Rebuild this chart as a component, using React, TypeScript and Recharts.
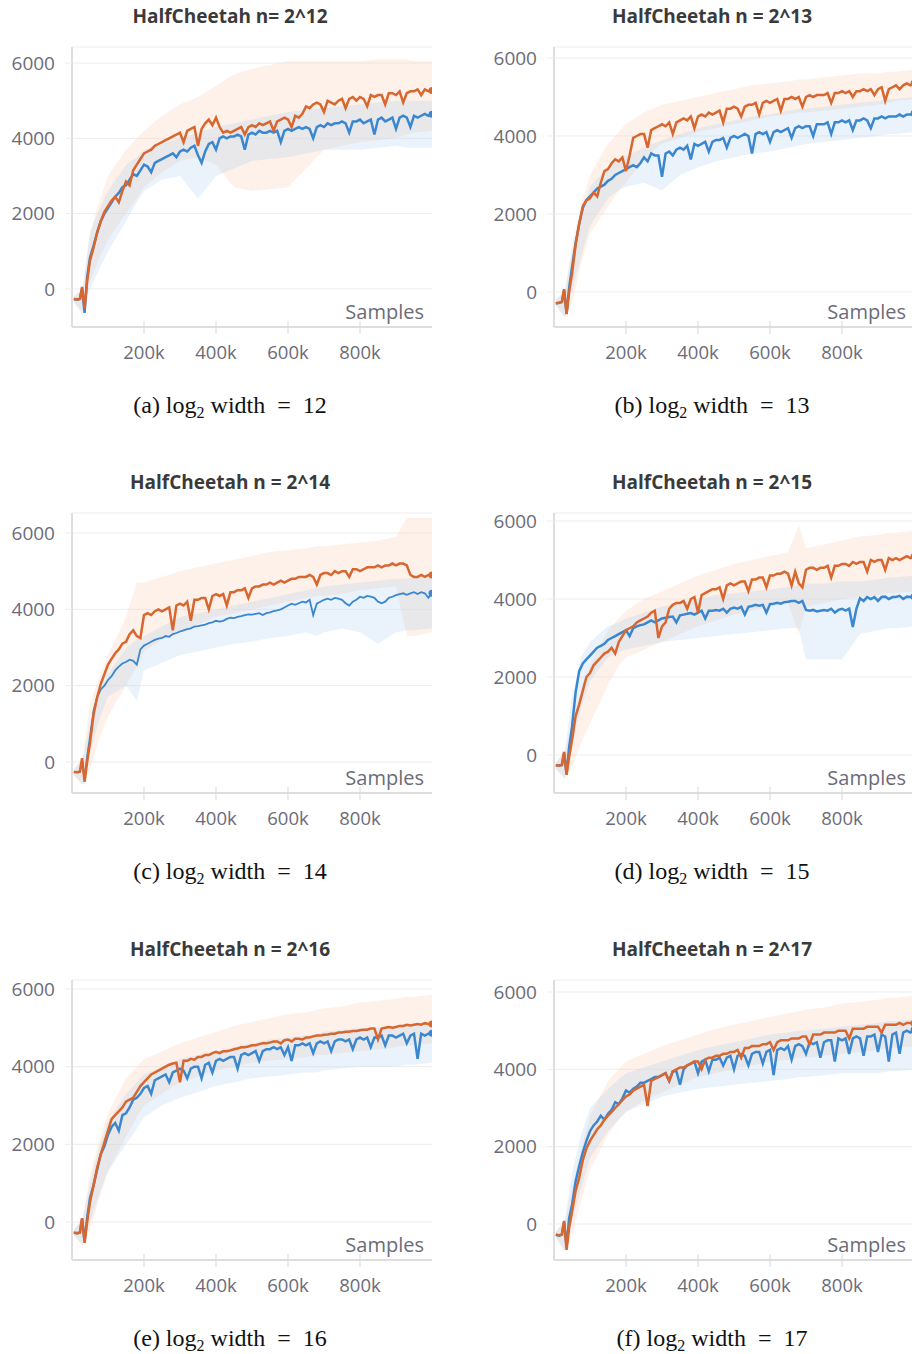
import { ComposedChart, Line, Area, XAxis, YAxis, CartesianGrid } from 'recharts';

// sample counts (thousands) for the mean curves
const STEPS = [
  5, 15, 22, 28, 35, 42,
  50, 60, 70, 80, 90, 100, 110, 120, 130, 140,
  150, 160, 170, 180, 190, 200, 210, 220, 230, 240,
  250, 260, 270, 280, 290, 300, 310, 320, 330, 340,
  350, 360, 370, 380, 390, 400, 410, 420, 430, 440,
  450, 460, 470, 480, 490, 500, 510, 520, 530, 540,
  550, 560, 570, 580, 590, 600, 610, 620, 630, 640,
  650, 660, 670, 680, 690, 700, 710, 720, 730, 740,
  750, 760, 770, 780, 790, 800, 810, 820, 830, 840,
  850, 860, 870, 880, 890, 900, 910, 920, 930, 940,
  950, 960, 970, 980, 990, 1000,
];

// sample counts (thousands) for the min/max bands
const BAND_STEPS = [5, 30, 50, 75, 100, 150, 180, 200, 250, 300, 350, 400, 450, 500, 550, 600, 650, 680, 700, 750, 800, 850, 900, 930, 950, 1000];

const Y_TICKS = [0, 2000, 4000, 6000];
const X_TICKS = [200, 400, 600, 800];

// ---- n = 2^12
const ORANGE_12 = [
  -270, -280, -260, 50, -530, 200,
  750, 1100, 1500, 1800, 2050, 2200, 2350, 2450, 2300, 2600,
  2850, 2750, 3150, 3300, 3450, 3600, 3650, 3700, 3800, 3850,
  3900, 3950, 4000, 4050, 4100, 4150, 3900, 4200, 4250, 4300,
  3800, 4250, 4400, 4500, 4350, 4550, 4300, 4150, 4200, 4150,
  4200, 4250, 4300, 4100, 4300, 4350, 4300, 4400, 4350, 4400,
  4450, 4200, 4450, 4500, 4550, 4500, 4300, 4600, 4550, 4650,
  4850, 4800, 4900, 4950, 4900, 4700, 5000, 4950, 4900, 5000,
  5050, 4800, 5050, 5100, 5000, 5100, 5050, 4850, 5150, 5100,
  5150, 5150, 4900, 5200, 5200, 5150, 5250, 4950, 5200, 5250,
  5250, 5300, 5150, 5300, 5250, 5270,
];
const BLUE_12 = [
  -270, -290, -270, 0, -640, 300,
  830, 1150, 1500, 1800, 2000, 2150, 2300, 2450, 2550, 2700,
  2750, 2900, 3050, 3000, 3150, 3300, 3250, 3100, 3350, 3400,
  3450, 3500, 3550, 3600, 3500, 3650, 3700, 3650, 3750, 3800,
  3550, 3350, 3650, 3850, 3900, 3700, 4000, 4050, 4000, 4050,
  4050, 4100, 4050, 3700, 4100, 4150, 4100, 4200, 4150, 4150,
  4200, 4150, 4200, 3900, 4200, 4250, 4200, 4250, 4300, 4250,
  4300, 4250, 4000, 4300, 4350, 4300, 4400, 4350, 4400, 4400,
  4450, 4400, 4150, 4450, 4450, 4500, 4400, 4450, 4500, 4100,
  4500, 4550, 4450, 4500, 4550, 4250, 4550, 4600, 4550, 4300,
  4600, 4550, 4600, 4650, 4600, 4640,
];
const ORANGE_HI_12 = [-200, 0, 1500, 2300, 3000, 3700, 4000, 4200, 4600, 4900, 5100, 5400, 5700, 5850, 5950, 6050, 6050, 6050, 6050, 6050, 6050, 6100, 6100, 6100, 6050, 6050];
const ORANGE_LO_12 = [-350, -600, 200, 800, 1300, 2000, 2400, 2700, 3100, 3400, 3500, 3300, 2700, 2600, 2650, 2700, 3200, 3500, 3700, 3800, 3900, 3950, 4000, 4100, 4150, 4200];
const BLUE_HI_12 = [-200, 0, 1500, 2100, 2600, 3300, 3500, 3700, 3850, 4000, 4150, 4300, 4400, 4500, 4600, 4700, 4750, 4800, 4800, 4850, 4900, 4950, 5000, 5000, 5000, 5000];
const BLUE_LO_12 = [-350, -700, 0, 500, 1000, 1800, 2300, 2600, 2900, 3000, 2400, 3000, 3200, 3400, 3450, 3500, 3600, 3650, 3700, 3700, 3700, 3750, 3800, 3750, 3750, 3750];

// ---- n = 2^13
const ORANGE_13 = [
  -290, -280, -250, 70, -570, 0,
  460, 1200, 1750, 2200, 2350, 2400, 2550, 2450, 2800, 3100,
  3150, 3300, 3400, 3350, 3450, 3100, 3500, 3950, 4000, 4050,
  4050, 3700, 4150, 4200, 4250, 4300, 4250, 4350, 4050, 4350,
  4400, 4450, 4400, 4500, 4200, 4500, 4550, 4500, 4600, 4550,
  4600, 4650, 4350, 4700, 4700, 4750, 4700, 4500, 4750, 4800,
  4800, 4850, 4550, 4850, 4900, 4850, 4900, 4950, 4650, 4950,
  4950, 5000, 4950, 5000, 4750, 5000, 5050, 5000, 5050, 5050,
  5050, 5100, 4850, 5100, 5100, 5150, 5100, 5150, 5000, 5150,
  5150, 5200, 5150, 5200, 5050, 5200, 5250, 4900, 5200, 5250,
  5300, 5200, 5300, 5350, 5300, 5350,
];
const BLUE_13 = [
  -290, -280, -260, 50, -560, 100,
  620, 1250, 1750, 2150, 2350, 2450, 2550, 2650, 2700, 2750,
  2850, 2900, 3000, 3050, 3100, 3150, 3200, 3250, 3200, 3300,
  3450, 3350, 3550, 3500, 3500, 2950, 3550, 3600, 3500, 3650,
  3700, 3650, 3750, 3400, 3800, 3750, 3800, 3850, 3600, 3850,
  3900, 3900, 3950, 3700, 3950, 4000, 3950, 4000, 4050, 4000,
  3550, 4050, 4100, 4050, 4100, 3850, 4100, 4150, 4100, 4150,
  4200, 3950, 4200, 4250, 4200, 4250, 4250, 4000, 4300, 4300,
  4300, 4350, 4050, 4350, 4350, 4400, 4350, 4400, 4150, 4400,
  4400, 4450, 4400, 4200, 4450, 4450, 4500, 4450, 4500, 4500,
  4500, 4550, 4500, 4550, 4550, 4580,
];
const ORANGE_HI_13 = [-200, 0, 1200, 2200, 3000, 3800, 4100, 4300, 4600, 4800, 4900, 5000, 5100, 5200, 5300, 5350, 5400, 5450, 5450, 5500, 5550, 5600, 5600, 5650, 5650, 5700];
const ORANGE_LO_13 = [-350, -650, -300, 700, 1500, 2200, 2600, 2800, 3400, 3800, 3950, 4100, 4200, 4300, 4400, 4500, 4550, 4600, 4600, 4650, 4700, 4750, 4800, 4850, 4900, 4950];
const BLUE_HI_13 = [-200, 0, 1000, 2000, 2700, 3200, 3400, 3500, 3700, 3900, 4050, 4200, 4300, 4400, 4500, 4550, 4650, 4700, 4700, 4750, 4800, 4850, 4900, 4950, 4950, 5000];
const BLUE_LO_13 = [-350, -650, 0, 900, 1700, 2400, 2600, 2700, 2800, 2600, 3000, 3200, 3350, 3450, 3550, 3600, 3700, 3750, 3800, 3850, 3900, 3950, 4000, 4050, 4050, 4100];

// ---- n = 2^14
const ORANGE_14 = [
  -260, -270, -250, 100, -520, 0,
  500, 1250, 1700, 2050, 2300, 2550, 2700, 2850, 2950, 3100,
  3150, 3350, 3450, 3300, 3250, 3850, 3900, 3850, 3950, 4000,
  3950, 4000, 4050, 3450, 4100, 4150, 4100, 4200, 3700, 4250,
  4250, 4300, 4300, 4000, 4350, 4400, 4350, 4400, 4100, 4450,
  4450, 4500, 4500, 4550, 4300, 4550, 4600, 4600, 4650, 4650,
  4700, 4650, 4700, 4750, 4700, 4750, 4800, 4800, 4850, 4850,
  4850, 4900, 4850, 4650, 4900, 4950, 4950, 4900, 5000, 4950,
  5000, 5000, 4850, 5050, 5050, 5000, 5050, 5100, 5100, 5100,
  5150, 5100, 5150, 5150, 5200, 5150, 5200, 5200, 5150, 4900,
  4850, 4850, 4900, 4850, 4900, 4900,
];
const BLUE_14 = [
  -260, -270, -260, 50, -450, 150,
  650, 1350, 1700, 1900, 2000, 2150, 2250, 2400, 2500, 2580,
  2620, 2680, 2650, 2550, 2950, 3050, 3100, 3150, 3200, 3230,
  3250, 3300, 3280, 3350, 3380, 3420, 3450, 3480, 3500, 3550,
  3560, 3580, 3600, 3640, 3660, 3700, 3680, 3700, 3750, 3780,
  3770, 3800, 3820, 3850, 3870, 3860, 3880, 3900, 3850, 3900,
  3920, 3950, 3970, 4000, 4050, 4100, 4150, 4120, 4160, 4200,
  4180, 4250, 3850, 4150, 4200, 4250, 4280, 4250, 4300, 4280,
  4250, 4160, 4100, 4200, 4250, 4330, 4300, 4350, 4330, 4300,
  4200, 4160, 4200, 4300, 4330, 4370, 4400, 4420, 4380, 4420,
  4450, 4400, 4450, 4420, 4300, 4420,
];
const ORANGE_HI_14 = [-200, 100, 1500, 2200, 2800, 3800, 4700, 4700, 4850, 5000, 5100, 5200, 5300, 5400, 5500, 5550, 5600, 5650, 5650, 5700, 5750, 5800, 5900, 6400, 6400, 6400];
const ORANGE_LO_14 = [-350, -600, -200, 600, 1200, 2000, 2500, 2900, 3200, 3400, 3600, 3800, 3900, 4000, 4100, 4200, 4300, 4350, 4350, 4400, 4500, 4550, 4600, 3300, 3300, 3400];
const BLUE_HI_14 = [-200, 100, 1000, 1800, 2300, 3000, 3200, 3300, 3550, 3800, 3900, 4000, 4100, 4200, 4300, 4400, 4500, 4550, 4600, 4650, 4700, 4750, 4800, 4800, 4850, 4900];
const BLUE_LO_14 = [-350, -600, 200, 1100, 1700, 2000, 1600, 2400, 2600, 2800, 2900, 3000, 3100, 3150, 3250, 3300, 3400, 3300, 3400, 3500, 3400, 3100, 3400, 3450, 3450, 3500];

// ---- n = 2^15
const ORANGE_15 = [
  -260, -270, -250, 80, -510, -50,
  380, 1000, 1300, 1650, 2000, 2100, 2300, 2400, 2500, 2600,
  2650, 2750, 2600, 2900, 3050, 3200, 3250, 3300, 3400, 3450,
  3500, 3550, 3650, 3700, 3000, 3300, 3400, 3750, 3850, 3900,
  3900, 3950, 3750, 4000, 4050, 3650, 4100, 4150, 4200, 4250,
  4250, 4300, 4000, 4350, 4400, 4350, 4400, 4450, 4450, 4200,
  4500, 4500, 4550, 4550, 4300, 4600, 4600, 4650, 4650, 4700,
  4650, 4350, 4700, 4400, 4300, 4750, 4800, 4800, 4750, 4800,
  4800, 4850, 4550, 4850, 4850, 4900, 4900, 4850, 4950, 4900,
  4950, 4950, 4700, 5000, 4950, 5000, 5000, 4750, 5050, 5000,
  5050, 5000, 5050, 5100, 5050, 5090,
];
const BLUE_15 = [
  -260, -270, -260, 60, -480, 200,
  720, 1600, 2150, 2350, 2450, 2550, 2650, 2750, 2800, 2850,
  2950, 3000, 3050, 3100, 3150, 3200, 3050, 3250, 3300, 3330,
  3350, 3400, 3450, 3400, 3450, 3500, 3520, 3540, 3550, 3400,
  3580, 3600, 3620, 3640, 3600, 3650, 3700, 3500, 3700, 3700,
  3720, 3700, 3750, 3650, 3750, 3780, 3750, 3800, 3600, 3800,
  3820, 3850, 3830, 3850, 3650, 3870, 3880, 3900, 3880, 3920,
  3930, 3950, 3950, 3900, 3950, 3720, 3700, 3720, 3680, 3700,
  3720, 3700, 3750, 3650, 3720, 3750, 3700, 3750, 3280, 3750,
  4020, 3950, 4050, 4000, 4050, 3950, 4050, 4060, 4000, 4050,
  4050, 4080, 4000, 4060, 4050, 4060,
];
const ORANGE_HI_15 = [-200, 100, 800, 1600, 2300, 3200, 3500, 3700, 4000, 4200, 4400, 4600, 4750, 4900, 5000, 5100, 5200, 5900, 5300, 5400, 5500, 5600, 5650, 5700, 5700, 5750];
const ORANGE_LO_15 = [-350, -600, -300, 300, 800, 1800, 2300, 2500, 2700, 2900, 3100, 3300, 3450, 3600, 3700, 3800, 3900, 3100, 3800, 3900, 4000, 4050, 4100, 4150, 4150, 4200];
const BLUE_HI_15 = [-200, 100, 1500, 2500, 2900, 3300, 3400, 3500, 3650, 3800, 3900, 4000, 4100, 4150, 4200, 4250, 4300, 4350, 4400, 4400, 4450, 4450, 4500, 4550, 4550, 4600];
const BLUE_LO_15 = [-350, -600, 200, 1200, 1900, 2500, 2650, 2700, 2800, 2900, 2950, 3000, 3050, 3100, 3150, 3200, 3250, 3250, 2450, 2450, 2450, 3100, 3200, 3250, 3250, 3300];

// ---- n = 2^16
const ORANGE_16 = [
  -280, -290, -270, 100, -540, 0,
  510, 950, 1400, 1750, 2050, 2350, 2650, 2750, 2850, 2950,
  3100, 3150, 3200, 3350, 3500, 3600, 3700, 3800, 3850, 3900,
  3950, 4000, 4050, 4080, 4100, 3600, 4150, 4150, 4200, 4180,
  4250, 4250, 4300, 4300, 4350, 4380, 4350, 4400, 4400, 4420,
  4450, 4470, 4500, 4500, 4520, 4550, 4550, 4580, 4600, 4600,
  4620, 4650, 4650, 4600, 4680, 4700, 4650, 4720, 4720, 4700,
  4750, 4750, 4780, 4800, 4800, 4820, 4830, 4850, 4850, 4880,
  4880, 4900, 4900, 4920, 4920, 4940, 4950, 4950, 4980, 4980,
  4700, 4980, 5000, 5020, 5000, 5020, 5050, 5050, 5080, 5060,
  5080, 5100, 5080, 5120, 5100, 5100,
];
const BLUE_16 = [
  -280, -290, -270, 80, -500, 100,
  620, 950, 1350, 1750, 1950, 2250, 2450, 2550, 2350, 2750,
  2800, 2950, 3150, 3200, 3300, 3450, 3500, 3300, 3650, 3700,
  3750, 3800, 3600, 3850, 3900, 3950, 3900, 3700, 3950, 4000,
  4000, 3700, 4050, 4100, 3850, 4150, 4200, 4150, 4200, 4250,
  4250, 3950, 4300, 4350, 4300, 4350, 4400, 4150, 4400, 4450,
  4450, 4500, 4450, 4500, 4300, 4500, 4150, 4550, 4550, 4600,
  4550, 4600, 4350, 4600, 4650, 4600, 4650, 4400, 4650, 4700,
  4700, 4650, 4700, 4450, 4700, 4750, 4700, 4750, 4500, 4750,
  4750, 4800, 4550, 4800, 4800, 4750, 4800, 4850, 4600, 4800,
  4850, 4200, 4850, 4800, 4850, 4860,
];
const ORANGE_HI_16 = [-200, 100, 1200, 2100, 2800, 3700, 4000, 4200, 4400, 4600, 4750, 4900, 5050, 5150, 5250, 5350, 5400, 5450, 5500, 5550, 5650, 5700, 5750, 5800, 5800, 5850];
const ORANGE_LO_16 = [-350, -600, -200, 600, 1300, 2200, 2700, 3000, 3300, 3600, 3750, 3900, 4000, 4100, 4150, 4200, 4250, 4300, 4300, 4350, 4400, 4450, 4500, 4550, 4550, 4600];
const BLUE_HI_16 = [-200, 100, 1000, 1900, 2600, 3300, 3600, 3800, 4000, 4200, 4300, 4400, 4500, 4600, 4700, 4750, 4800, 4850, 4900, 4950, 5000, 5000, 5050, 5050, 5100, 5100];
const BLUE_LO_16 = [-350, -600, 0, 700, 1300, 2000, 2400, 2700, 3000, 3200, 3350, 3500, 3600, 3700, 3750, 3800, 3850, 3850, 3900, 3950, 4000, 4000, 4000, 4050, 4050, 4100];

// ---- n = 2^17
const ORANGE_17 = [
  -280, -290, -270, 80, -670, -100,
  310, 850, 1200, 1650, 1950, 2150, 2300, 2450, 2550, 2700,
  2800, 2900, 3000, 3100, 3200, 3300, 3350, 3450, 3500, 3550,
  3600, 3050, 3700, 3750, 3800, 3850, 3900, 3700, 3950, 4000,
  4050, 4050, 4100, 4150, 4200, 4200, 4000, 4250, 4300, 4300,
  4350, 4350, 4400, 4400, 4450, 4450, 4500, 4300, 4550, 4550,
  4600, 4600, 4600, 4650, 4650, 4700, 4500, 4700, 4750, 4750,
  4750, 4800, 4800, 4800, 4850, 4850, 4650, 4900, 4900, 4900,
  4950, 4950, 4950, 4950, 5000, 5000, 5000, 4800, 5050, 5050,
  5050, 5050, 5100, 5100, 5100, 5100, 4950, 5150, 5150, 5150,
  5150, 5200, 5150, 5200, 5200, 5190,
];
const BLUE_17 = [
  -280, -300, -270, 60, -600, 150,
  490, 1100, 1500, 1850, 2150, 2400, 2550, 2650, 2800, 2700,
  2850, 2950, 3150, 3100, 3250, 3450, 3400, 3500, 3550, 3650,
  3650, 3700, 3750, 3800, 3800, 3850, 3900, 3700, 3950, 3950,
  3600, 4000, 4100, 4150, 4200, 3900, 4200, 4250, 3950, 4250,
  4250, 4300, 4100, 4300, 4350, 4000, 4350, 4400, 4350, 4100,
  4400, 4450, 4450, 4150, 4450, 4500, 3850, 4500, 4550, 4500,
  4600, 4250, 4600, 4650, 4600, 4400, 4700, 4650, 4700, 4300,
  4700, 4750, 4750, 4200, 4800, 4750, 4800, 4400, 4800, 4850,
  4800, 4350, 4850, 4850, 4900, 4450, 4900, 4850, 4200, 4900,
  4950, 4400, 4950, 5000, 4950, 5020,
];
const ORANGE_HI_17 = [-200, 100, 900, 1900, 2800, 3700, 4000, 4200, 4400, 4600, 4750, 4900, 5050, 5150, 5250, 5350, 5450, 5500, 5550, 5600, 5700, 5750, 5800, 5850, 5850, 5900];
const ORANGE_LO_17 = [-350, -700, -300, 600, 1400, 2300, 2700, 2900, 3200, 3400, 3600, 3800, 3900, 4000, 4100, 4200, 4250, 4300, 4300, 4350, 4400, 4450, 4500, 4550, 4550, 4600];
const BLUE_HI_17 = [-200, 100, 1300, 2300, 3000, 3500, 3750, 3900, 4050, 4200, 4350, 4500, 4600, 4700, 4800, 4900, 4950, 5000, 5000, 5050, 5100, 5150, 5200, 5250, 5250, 5300];
const BLUE_LO_17 = [-350, -700, 100, 900, 1700, 2400, 2700, 2900, 3100, 3300, 3400, 3500, 3550, 3600, 3650, 3700, 3750, 3800, 3800, 3850, 3900, 3900, 3900, 3950, 3950, 4000];

const ORANGE = '#d8662f';
const BLUE = '#3a87cf';
const AXIS_TEXT = '#6c6c78';
const SANS = "'Open Sans', 'Noto Sans', sans-serif";

const PANELS = [
  { tag: 'a', n: 12, title: 'HalfCheetah n= 2^12', orange: ORANGE_12, blue: BLUE_12, oHi: ORANGE_HI_12, oLo: ORANGE_LO_12, bHi: BLUE_HI_12, bLo: BLUE_LO_12, domain: [-1013, 6427], left: 0, top: 0 },
  { tag: 'b', n: 13, title: 'HalfCheetah n = 2^13', orange: ORANGE_13, blue: BLUE_13, oHi: ORANGE_HI_13, oLo: ORANGE_LO_13, bHi: BLUE_HI_13, bLo: BLUE_LO_13, domain: [-901, 6283], left: 482, top: 0 },
  { tag: 'c', n: 14, title: 'HalfCheetah n = 2^14', orange: ORANGE_14, blue: BLUE_14, oHi: ORANGE_HI_14, oLo: ORANGE_LO_14, bHi: BLUE_HI_14, bLo: BLUE_LO_14, domain: [-812, 6524], left: 0, top: 466, thinBlue: true },
  { tag: 'd', n: 15, title: 'HalfCheetah n = 2^15', orange: ORANGE_15, blue: BLUE_15, oHi: ORANGE_HI_15, oLo: ORANGE_LO_15, bHi: BLUE_HI_15, bLo: BLUE_LO_15, domain: [-974, 6205], left: 482, top: 466 },
  { tag: 'e', n: 16, title: 'HalfCheetah n = 2^16', orange: ORANGE_16, blue: BLUE_16, oHi: ORANGE_HI_16, oLo: ORANGE_LO_16, bHi: BLUE_HI_16, bLo: BLUE_LO_16, domain: [-979, 6232], left: 0, top: 933 },
  { tag: 'f', n: 17, title: 'HalfCheetah n = 2^17', orange: ORANGE_17, blue: BLUE_17, oHi: ORANGE_HI_17, oLo: ORANGE_LO_17, bHi: BLUE_HI_17, bLo: BLUE_LO_17, domain: [-931, 6310], left: 482, top: 933 },
];

function XTick({ x, y, payload }: { x?: number; y?: number; payload?: { value: number } }) {
  if (x == null || y == null || !payload) return null;
  return (
    <g>
      <line x1={x} x2={x} y1={y - 6} y2={y + 7} stroke="#d9d9d9" strokeWidth={1} />
      <text x={x} y={y + 32} textAnchor="middle" fill={AXIS_TEXT} fontSize={18.5} fontFamily={SANS}>
        {payload.value}k
      </text>
    </g>
  );
}

function endDot(color: string, last: number) {
  return (props: { cx?: number; cy?: number; index?: number }) =>
    props.index === last ? (
      <circle key="end" cx={props.cx} cy={props.cy} r={3.5} fill={color} />
    ) : (
      <g key={props.index} />
    );
}

function Panel({ p }: { p: (typeof PANELS)[number] }) {
  const orangeData = STEPS.map((s, i) => ({ step: s, v: p.orange[i] }));
  const blueData = STEPS.map((s, i) => ({ step: s, v: p.blue[i] }));
  const orangeBand = BAND_STEPS.map((s, i) => ({ step: s, r: [p.oLo[i], p.oHi[i]] }));
  const blueBand = BAND_STEPS.map((s, i) => ({ step: s, r: [p.bLo[i], p.bHi[i]] }));
  const last = STEPS.length - 1;

  return (
    <div style={{ position: 'absolute', left: p.left, top: p.top, width: 450, height: 430 }}>
      <div
        style={{
          position: 'absolute', left: 5, top: 4, width: 450, textAlign: 'center',
          fontFamily: SANS, fontWeight: 700, fontSize: 19, lineHeight: '24px', color: '#3a3a3a',
        }}
      >
        {p.title}
      </div>
      <ComposedChart width={450} height={380} margin={{ top: 47, right: 18, bottom: 13, left: 12 }}>
        <CartesianGrid vertical={false} stroke="#ededed" />
        <XAxis
          type="number"
          dataKey="step"
          domain={[0, 1000]}
          allowDataOverflow
          ticks={X_TICKS}
          height={40}
          tickSize={0}
          tickMargin={0}
          tickLine={false}
          axisLine={{ stroke: '#dedede', strokeWidth: 2 }}
          tick={<XTick />}
        />
        <YAxis
          type="number"
          domain={p.domain}
          allowDataOverflow
          ticks={Y_TICKS}
          interval={0}
          width={60}
          tickSize={7}
          tickMargin={10}
          tickLine={{ stroke: '#ededed' }}
          axisLine={{ stroke: '#dedede', strokeWidth: 2 }}
          tick={{ fill: AXIS_TEXT, fontSize: 19, fontFamily: SANS }}
        />
        <Area data={orangeBand} dataKey="r" type="linear" stroke="none" fill="#f9cfb5" fillOpacity={0.3} isAnimationActive={false} />
        <Area data={blueBand} dataKey="r" type="linear" stroke="none" fill="#b9d5f2" fillOpacity={0.3} isAnimationActive={false} />
        <Line
          data={blueData}
          dataKey="v"
          type="linear"
          stroke={BLUE}
          strokeWidth={p.thinBlue ? 1.8 : 2.5}
          dot={endDot(BLUE, last)}
          activeDot={false}
          isAnimationActive={false}
        />
        <Line
          data={orangeData}
          dataKey="v"
          type="linear"
          stroke={ORANGE}
          strokeWidth={2.5}
          dot={endDot(ORANGE, last)}
          activeDot={false}
          isAnimationActive={false}
        />
      </ComposedChart>
      <div
        style={{
          position: 'absolute', right: 26, top: 300, fontFamily: SANS, fontSize: 20,
          lineHeight: '24px', color: AXIS_TEXT,
        }}
      >
        Samples
      </div>
      <div
        style={{
          position: 'absolute', left: 5, top: 391, width: 450, textAlign: 'center', whiteSpace: 'pre',
          fontFamily: "'Liberation Serif', 'Times New Roman', serif", fontSize: 24, lineHeight: '28px', color: '#111',
        }}
      >
        ({p.tag}) log<sub style={{ fontSize: 16, verticalAlign: '-5px', lineHeight: 0 }}>2</sub> width{'\u2002'}={'\u2002'}{p.n}
      </div>
    </div>
  );
}

export default function App() {
  return (
    <div style={{ position: 'absolute', left: 0, top: 0, width: 912, height: 1354, overflow: 'hidden', background: '#fff' }}>
      {PANELS.map((p) => (
        <Panel key={p.tag} p={p} />
      ))}
    </div>
  );
}
